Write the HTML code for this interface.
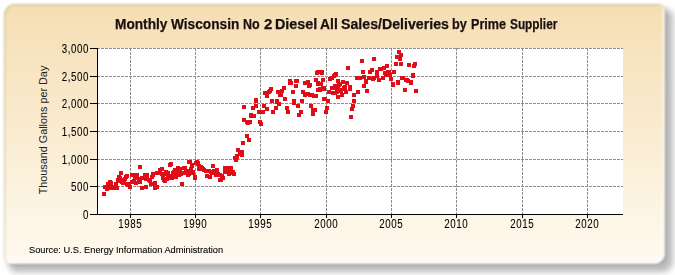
<!DOCTYPE html>
<html><head><meta charset="utf-8"><style>
html,body{margin:0;padding:0;background:#fff;width:675px;height:275px;overflow:hidden;position:relative;font-family:"Liberation Sans",sans-serif;}
.shadow{position:absolute;left:9px;top:9px;width:664px;height:263px;border-radius:11px 8px 11px 7px;background:#bababa;filter:blur(3px);}
.panel{position:absolute;left:3.6px;top:3.6px;width:661.4px;height:260.4px;border-radius:11px 8px 11px 7px;filter:blur(0.8px);
background:linear-gradient(180deg,#f5deb3 0%,#fffaf0 100%);box-shadow:inset 1px 1px 1.5px rgba(160,150,100,0.45), inset -2px -2px 1.5px rgba(255,255,255,0.95), 1px 1px 1.2px rgba(110,110,110,0.6);}
svg{position:absolute;left:0;top:0;}
.tw{position:absolute;top:16px;font-weight:bold;font-size:14.5px;color:#1a1010;white-space:nowrap;transform-origin:0 0;-webkit-text-stroke:0.25px #1a1010;}
.xl{position:absolute;top:217px;width:60px;text-align:center;font-size:12.5px;color:#000;transform:scaleX(0.78);letter-spacing:0.7px;text-indent:0.7px;-webkit-text-stroke:0.08px #000;}
.yl{position:absolute;left:20.5px;width:68px;text-align:right;font-size:12.5px;color:#000;line-height:16px;-webkit-text-stroke:0.08px #000;transform:scaleX(0.78);transform-origin:68px 0;letter-spacing:0.7px;}
.ylab{position:absolute;left:42.8px;top:129.8px;transform:translate(-50%,-50%) rotate(-90deg) scaleX(0.94);font-size:11.5px;color:#222;white-space:nowrap;}
.src{position:absolute;left:29px;top:243.5px;font-size:9.5px;color:#000;white-space:nowrap;transform:scaleX(0.975);-webkit-text-stroke:0.1px #000;transform-origin:0 0;}
</style></head><body>
<div class="shadow"></div>
<div class="panel"></div>
<svg width="675" height="275" viewBox="0 0 675 275">
<rect x="98" y="48" width="525" height="166" fill="#fff"/>
<g stroke="#8e8e8e" stroke-width="1" stroke-dasharray="3 1" shape-rendering="crispEdges"><line x1="130.5" y1="48" x2="130.5" y2="214"/><line x1="195.5" y1="48" x2="195.5" y2="214"/><line x1="260.5" y1="48" x2="260.5" y2="214"/><line x1="326.5" y1="48" x2="326.5" y2="214"/><line x1="391.5" y1="48" x2="391.5" y2="214"/><line x1="456.5" y1="48" x2="456.5" y2="214"/><line x1="522.5" y1="48" x2="522.5" y2="214"/><line x1="587.5" y1="48" x2="587.5" y2="214"/><line x1="97" y1="48.5" x2="623" y2="48.5"/><line x1="97" y1="76.5" x2="623" y2="76.5"/><line x1="97" y1="103.5" x2="623" y2="103.5"/><line x1="97" y1="131.5" x2="623" y2="131.5"/><line x1="97" y1="159.5" x2="623" y2="159.5"/><line x1="97" y1="186.5" x2="623" y2="186.5"/></g>
<g fill="#e00c18" shape-rendering="crispEdges"><rect x="102" y="192" width="4" height="4"/><rect x="103" y="185" width="4" height="4"/><rect x="106" y="182" width="4" height="4"/><rect x="109" y="181" width="4" height="4"/><rect x="107" y="186" width="4" height="4"/><rect x="112" y="186" width="4" height="4"/><rect x="114" y="182" width="4" height="4"/><rect x="116" y="179" width="4" height="4"/><rect x="119" y="171" width="4" height="4"/><rect x="118" y="176" width="4" height="4"/><rect x="120" y="180" width="4" height="4"/><rect x="124" y="175" width="4" height="4"/><rect x="127" y="182" width="4" height="4"/><rect x="128" y="185" width="4" height="4"/><rect x="131" y="173" width="4" height="4"/><rect x="132" y="179" width="4" height="4"/><rect x="135" y="175" width="4" height="4"/><rect x="138" y="165" width="4" height="4"/><rect x="138" y="180" width="4" height="4"/><rect x="140" y="186" width="4" height="4"/><rect x="143" y="173" width="4" height="4"/><rect x="145" y="177" width="4" height="4"/><rect x="148" y="179" width="4" height="4"/><rect x="151" y="173" width="4" height="4"/><rect x="152" y="182" width="4" height="4"/><rect x="154" y="185" width="4" height="4"/><rect x="157" y="171" width="4" height="4"/><rect x="160" y="167" width="4" height="4"/><rect x="161" y="174" width="4" height="4"/><rect x="163" y="179" width="4" height="4"/><rect x="166" y="171" width="4" height="4"/><rect x="169" y="162" width="4" height="4"/><rect x="169" y="174" width="4" height="4"/><rect x="173" y="170" width="4" height="4"/><rect x="176" y="166" width="4" height="4"/><rect x="177" y="173" width="4" height="4"/><rect x="180" y="182" width="4" height="4"/><rect x="182" y="166" width="4" height="4"/><rect x="184" y="171" width="4" height="4"/><rect x="187" y="160" width="4" height="4"/><rect x="189" y="167" width="4" height="4"/><rect x="191" y="171" width="4" height="4"/><rect x="193" y="176" width="4" height="4"/><rect x="194" y="161" width="4" height="4"/><rect x="160" y="167" width="4" height="4"/><rect x="161" y="175" width="4" height="4"/><rect x="162" y="178" width="4" height="4"/><rect x="164" y="170" width="4" height="4"/><rect x="166" y="174" width="4" height="4"/><rect x="168" y="163" width="4" height="4"/><rect x="169" y="176" width="4" height="4"/><rect x="172" y="170" width="4" height="4"/><rect x="174" y="175" width="4" height="4"/><rect x="176" y="166" width="4" height="4"/><rect x="179" y="172" width="4" height="4"/><rect x="180" y="182" width="4" height="4"/><rect x="182" y="166" width="4" height="4"/><rect x="184" y="170" width="4" height="4"/><rect x="187" y="172" width="4" height="4"/><rect x="188" y="160" width="4" height="4"/><rect x="190" y="164" width="4" height="4"/><rect x="191" y="170" width="4" height="4"/><rect x="193" y="175" width="4" height="4"/><rect x="195" y="160" width="4" height="4"/><rect x="197" y="164" width="4" height="4"/><rect x="200" y="166" width="4" height="4"/><rect x="202" y="168" width="4" height="4"/><rect x="205" y="174" width="4" height="4"/><rect x="208" y="175" width="4" height="4"/><rect x="209" y="170" width="4" height="4"/><rect x="211" y="164" width="4" height="4"/><rect x="215" y="168" width="4" height="4"/><rect x="216" y="172" width="4" height="4"/><rect x="218" y="178" width="4" height="4"/><rect x="220" y="174" width="4" height="4"/><rect x="223" y="166" width="4" height="4"/><rect x="224" y="170" width="4" height="4"/><rect x="227" y="172" width="4" height="4"/><rect x="229" y="166" width="4" height="4"/><rect x="231" y="170" width="4" height="4"/><rect x="232" y="172" width="4" height="4"/><rect x="234" y="158" width="4" height="4"/><rect x="235" y="155" width="4" height="4"/><rect x="238" y="152" width="4" height="4"/><rect x="240" y="150" width="4" height="4"/><rect x="233" y="156" width="4" height="4"/><rect x="235" y="154" width="4" height="4"/><rect x="236" y="148" width="4" height="4"/><rect x="240" y="153" width="4" height="4"/><rect x="241" y="141" width="4" height="4"/><rect x="245" y="134" width="4" height="4"/><rect x="247" y="138" width="4" height="4"/><rect x="242" y="118" width="4" height="4"/><rect x="245" y="120" width="4" height="4"/><rect x="248" y="120" width="4" height="4"/><rect x="258" y="120" width="4" height="4"/><rect x="259" y="122" width="4" height="4"/><rect x="242" y="105" width="4" height="4"/><rect x="242" y="118" width="4" height="4"/><rect x="246" y="121" width="4" height="4"/><rect x="249" y="113" width="4" height="4"/><rect x="251" y="106" width="4" height="4"/><rect x="254" y="99" width="4" height="4"/><rect x="254" y="104" width="4" height="4"/><rect x="258" y="120" width="4" height="4"/><rect x="257" y="110" width="4" height="4"/><rect x="261" y="110" width="4" height="4"/><rect x="262" y="104" width="4" height="4"/><rect x="265" y="107" width="4" height="4"/><rect x="263" y="91" width="4" height="4"/><rect x="265" y="94" width="4" height="4"/><rect x="268" y="89" width="4" height="4"/><rect x="270" y="99" width="4" height="4"/><rect x="271" y="110" width="4" height="4"/><rect x="274" y="106" width="4" height="4"/><rect x="275" y="100" width="4" height="4"/><rect x="276" y="90" width="4" height="4"/><rect x="277" y="102" width="4" height="4"/><rect x="279" y="93" width="4" height="4"/><rect x="282" y="86" width="4" height="4"/><rect x="283" y="97" width="4" height="4"/><rect x="285" y="106" width="4" height="4"/><rect x="286" y="110" width="4" height="4"/><rect x="291" y="90" width="4" height="4"/><rect x="292" y="101" width="4" height="4"/><rect x="294" y="84" width="4" height="4"/><rect x="296" y="104" width="4" height="4"/><rect x="297" y="113" width="4" height="4"/><rect x="299" y="110" width="4" height="4"/><rect x="300" y="99" width="4" height="4"/><rect x="301" y="90" width="4" height="4"/><rect x="303" y="93" width="4" height="4"/><rect x="307" y="84" width="4" height="4"/><rect x="308" y="93" width="4" height="4"/><rect x="309" y="104" width="4" height="4"/><rect x="311" y="108" width="4" height="4"/><rect x="311" y="112" width="4" height="4"/><rect x="313" y="94" width="4" height="4"/><rect x="316" y="88" width="4" height="4"/><rect x="269" y="87" width="4" height="4"/><rect x="282" y="86" width="4" height="4"/><rect x="288" y="79" width="4" height="4"/><rect x="289" y="81" width="4" height="4"/><rect x="294" y="79" width="4" height="4"/><rect x="294" y="84" width="4" height="4"/><rect x="303" y="81" width="4" height="4"/><rect x="306" y="80" width="4" height="4"/><rect x="308" y="83" width="4" height="4"/><rect x="315" y="71" width="4" height="4"/><rect x="320" y="71" width="4" height="4"/><rect x="314" y="78" width="4" height="4"/><rect x="316" y="82" width="4" height="4"/><rect x="319" y="82" width="4" height="4"/><rect x="321" y="78" width="4" height="4"/><rect x="322" y="86" width="4" height="4"/><rect x="328" y="77" width="4" height="4"/><rect x="332" y="74" width="4" height="4"/><rect x="334" y="72" width="4" height="4"/><rect x="331" y="86" width="4" height="4"/><rect x="336" y="84" width="4" height="4"/><rect x="314" y="94" width="4" height="4"/><rect x="313" y="108" width="4" height="4"/><rect x="318" y="87" width="4" height="4"/><rect x="322" y="87" width="4" height="4"/><rect x="323" y="97" width="4" height="4"/><rect x="326" y="99" width="4" height="4"/><rect x="325" y="106" width="4" height="4"/><rect x="324" y="110" width="4" height="4"/><rect x="327" y="90" width="4" height="4"/><rect x="330" y="86" width="4" height="4"/><rect x="331" y="91" width="4" height="4"/><rect x="333" y="84" width="4" height="4"/><rect x="335" y="90" width="4" height="4"/><rect x="336" y="95" width="4" height="4"/><rect x="337" y="83" width="4" height="4"/><rect x="339" y="88" width="4" height="4"/><rect x="340" y="93" width="4" height="4"/><rect x="343" y="87" width="4" height="4"/><rect x="344" y="90" width="4" height="4"/><rect x="348" y="87" width="4" height="4"/><rect x="352" y="93" width="4" height="4"/><rect x="356" y="90" width="4" height="4"/><rect x="352" y="99" width="4" height="4"/><rect x="351" y="104" width="4" height="4"/><rect x="350" y="107" width="4" height="4"/><rect x="349" y="115" width="4" height="4"/><rect x="362" y="84" width="4" height="4"/><rect x="365" y="89" width="4" height="4"/><rect x="391" y="83" width="4" height="4"/><rect x="403" y="88" width="4" height="4"/><rect x="330" y="76" width="4" height="4"/><rect x="333" y="73" width="4" height="4"/><rect x="337" y="83" width="4" height="4"/><rect x="341" y="80" width="4" height="4"/><rect x="345" y="81" width="4" height="4"/><rect x="346" y="66" width="4" height="4"/><rect x="348" y="85" width="4" height="4"/><rect x="355" y="76" width="4" height="4"/><rect x="358" y="76" width="4" height="4"/><rect x="360" y="59" width="4" height="4"/><rect x="361" y="70" width="4" height="4"/><rect x="362" y="75" width="4" height="4"/><rect x="364" y="79" width="4" height="4"/><rect x="362" y="84" width="4" height="4"/><rect x="368" y="70" width="4" height="4"/><rect x="370" y="68" width="4" height="4"/><rect x="367" y="76" width="4" height="4"/><rect x="372" y="57" width="4" height="4"/><rect x="372" y="76" width="4" height="4"/><rect x="375" y="70" width="4" height="4"/><rect x="377" y="78" width="4" height="4"/><rect x="379" y="67" width="4" height="4"/><rect x="381" y="76" width="4" height="4"/><rect x="383" y="71" width="4" height="4"/><rect x="385" y="64" width="4" height="4"/><rect x="384" y="73" width="4" height="4"/><rect x="386" y="70" width="4" height="4"/><rect x="388" y="73" width="4" height="4"/><rect x="389" y="77" width="4" height="4"/><rect x="391" y="82" width="4" height="4"/><rect x="392" y="70" width="4" height="4"/><rect x="394" y="62" width="4" height="4"/><rect x="395" y="55" width="4" height="4"/><rect x="397" y="50" width="4" height="4"/><rect x="399" y="53" width="4" height="4"/><rect x="398" y="57" width="4" height="4"/><rect x="399" y="62" width="4" height="4"/><rect x="396" y="81" width="4" height="4"/><rect x="401" y="76" width="4" height="4"/><rect x="405" y="78" width="4" height="4"/><rect x="407" y="63" width="4" height="4"/><rect x="409" y="81" width="4" height="4"/><rect x="411" y="73" width="4" height="4"/><rect x="412" y="64" width="4" height="4"/><rect x="413" y="62" width="4" height="4"/><rect x="362" y="84" width="4" height="4"/><rect x="365" y="89" width="4" height="4"/><rect x="364" y="80" width="4" height="4"/><rect x="391" y="82" width="4" height="4"/><rect x="396" y="80" width="4" height="4"/><rect x="400" y="76" width="4" height="4"/><rect x="404" y="78" width="4" height="4"/><rect x="406" y="79" width="4" height="4"/><rect x="409" y="80" width="4" height="4"/><rect x="403" y="88" width="4" height="4"/><rect x="411" y="74" width="4" height="4"/><rect x="414" y="89" width="4" height="4"/><rect x="254" y="98" width="4" height="4"/><rect x="263" y="91" width="4" height="4"/><rect x="265" y="93" width="4" height="4"/><rect x="267" y="90" width="4" height="4"/><rect x="269" y="87" width="4" height="4"/><rect x="270" y="99" width="4" height="4"/><rect x="275" y="99" width="4" height="4"/><rect x="276" y="90" width="4" height="4"/><rect x="278" y="93" width="4" height="4"/><rect x="280" y="89" width="4" height="4"/><rect x="282" y="86" width="4" height="4"/><rect x="283" y="97" width="4" height="4"/><rect x="288" y="79" width="4" height="4"/><rect x="288" y="81" width="4" height="4"/><rect x="295" y="79" width="4" height="4"/><rect x="294" y="84" width="4" height="4"/><rect x="291" y="90" width="4" height="4"/><rect x="292" y="99" width="4" height="4"/><rect x="300" y="99" width="4" height="4"/><rect x="301" y="90" width="4" height="4"/><rect x="303" y="81" width="4" height="4"/><rect x="306" y="80" width="4" height="4"/><rect x="308" y="83" width="4" height="4"/><rect x="304" y="92" width="4" height="4"/><rect x="306" y="92" width="4" height="4"/><rect x="310" y="93" width="4" height="4"/><rect x="312" y="94" width="4" height="4"/><rect x="314" y="78" width="4" height="4"/><rect x="316" y="81" width="4" height="4"/><rect x="318" y="82" width="4" height="4"/><rect x="321" y="78" width="4" height="4"/><rect x="318" y="88" width="4" height="4"/><rect x="321" y="86" width="4" height="4"/><rect x="316" y="70" width="4" height="4"/><rect x="320" y="70" width="4" height="4"/><rect x="322" y="97" width="4" height="4"/><rect x="104" y="185" width="4" height="4"/><rect x="106" y="182" width="4" height="4"/><rect x="108" y="180" width="4" height="4"/><rect x="109" y="184" width="4" height="4"/><rect x="105" y="187" width="4" height="4"/><rect x="110" y="186" width="4" height="4"/><rect x="112" y="185" width="4" height="4"/><rect x="114" y="182" width="4" height="4"/><rect x="116" y="178" width="4" height="4"/><rect x="117" y="175" width="4" height="4"/><rect x="115" y="186" width="4" height="4"/><rect x="121" y="181" width="4" height="4"/><rect x="123" y="177" width="4" height="4"/><rect x="125" y="174" width="4" height="4"/><rect x="126" y="183" width="4" height="4"/><rect x="125" y="182" width="4" height="4"/><rect x="122" y="178" width="4" height="4"/><rect x="130" y="173" width="4" height="4"/><rect x="130" y="180" width="4" height="4"/><rect x="133" y="176" width="4" height="4"/><rect x="134" y="181" width="4" height="4"/><rect x="137" y="177" width="4" height="4"/><rect x="135" y="173" width="4" height="4"/><rect x="140" y="176" width="4" height="4"/><rect x="143" y="173" width="4" height="4"/><rect x="144" y="177" width="4" height="4"/><rect x="145" y="173" width="4" height="4"/><rect x="147" y="178" width="4" height="4"/><rect x="150" y="175" width="4" height="4"/><rect x="151" y="172" width="4" height="4"/><rect x="149" y="182" width="4" height="4"/><rect x="153" y="181" width="4" height="4"/><rect x="155" y="185" width="4" height="4"/><rect x="153" y="186" width="4" height="4"/><rect x="144" y="185" width="4" height="4"/><rect x="155" y="171" width="4" height="4"/><rect x="158" y="168" width="4" height="4"/><rect x="160" y="172" width="4" height="4"/><rect x="161" y="176" width="4" height="4"/><rect x="164" y="172" width="4" height="4"/><rect x="165" y="177" width="4" height="4"/><rect x="168" y="174" width="4" height="4"/><rect x="171" y="171" width="4" height="4"/><rect x="170" y="176" width="4" height="4"/><rect x="173" y="174" width="4" height="4"/><rect x="173" y="168" width="4" height="4"/><rect x="176" y="170" width="4" height="4"/><rect x="178" y="167" width="4" height="4"/><rect x="180" y="171" width="4" height="4"/><rect x="183" y="166" width="4" height="4"/><rect x="184" y="171" width="4" height="4"/><rect x="187" y="169" width="4" height="4"/><rect x="190" y="170" width="4" height="4"/><rect x="186" y="173" width="4" height="4"/><rect x="188" y="160" width="4" height="4"/><rect x="190" y="163" width="4" height="4"/><rect x="191" y="170" width="4" height="4"/><rect x="196" y="161" width="4" height="4"/><rect x="197" y="167" width="4" height="4"/><rect x="196" y="162" width="4" height="4"/><rect x="199" y="165" width="4" height="4"/><rect x="201" y="167" width="4" height="4"/><rect x="204" y="169" width="4" height="4"/><rect x="207" y="169" width="4" height="4"/><rect x="197" y="166" width="4" height="4"/><rect x="210" y="171" width="4" height="4"/><rect x="212" y="169" width="4" height="4"/><rect x="215" y="171" width="4" height="4"/><rect x="214" y="173" width="4" height="4"/><rect x="218" y="173" width="4" height="4"/><rect x="205" y="174" width="4" height="4"/><rect x="219" y="178" width="4" height="4"/><rect x="221" y="176" width="4" height="4"/><rect x="225" y="166" width="4" height="4"/><rect x="228" y="169" width="4" height="4"/><rect x="230" y="171" width="4" height="4"/><rect x="223" y="170" width="4" height="4"/><rect x="335" y="87" width="4" height="4"/><rect x="339" y="89" width="4" height="4"/><rect x="343" y="85" width="4" height="4"/><rect x="333" y="91" width="4" height="4"/><rect x="249" y="114" width="4" height="4"/><rect x="252" y="114" width="4" height="4"/><rect x="378" y="67" width="4" height="4"/><rect x="382" y="66" width="4" height="4"/><rect x="375" y="74" width="4" height="4"/><rect x="371" y="77" width="4" height="4"/><rect x="387" y="70" width="4" height="4"/><rect x="338" y="82" width="4" height="4"/><rect x="342" y="86" width="4" height="4"/><rect x="336" y="79" width="4" height="4"/></g>
<g stroke="#000" stroke-width="1" shape-rendering="crispEdges">
<line x1="97.5" y1="48" x2="97.5" y2="215"/><line x1="97" y1="214.5" x2="623" y2="214.5"/><line x1="130.5" y1="214" x2="130.5" y2="218"/><line x1="195.5" y1="214" x2="195.5" y2="218"/><line x1="260.5" y1="214" x2="260.5" y2="218"/><line x1="326.5" y1="214" x2="326.5" y2="218"/><line x1="391.5" y1="214" x2="391.5" y2="218"/><line x1="456.5" y1="214" x2="456.5" y2="218"/><line x1="522.5" y1="214" x2="522.5" y2="218"/><line x1="587.5" y1="214" x2="587.5" y2="218"/><line x1="90" y1="48.5" x2="98" y2="48.5"/><line x1="90" y1="76.5" x2="98" y2="76.5"/><line x1="90" y1="103.5" x2="98" y2="103.5"/><line x1="90" y1="131.5" x2="98" y2="131.5"/><line x1="90" y1="159.5" x2="98" y2="159.5"/><line x1="90" y1="186.5" x2="98" y2="186.5"/><line x1="90" y1="214.5" x2="98" y2="214.5"/></g>
</svg>
<span class="tw" style="left:114.76px;transform:scaleX(0.944)">Monthly</span><span class="tw" style="left:171.30px;transform:scaleX(0.944)">Wisconsin</span><span class="tw" style="left:242.84px;transform:scaleX(0.861)">No</span><span class="tw" style="left:263.60px;transform:scaleX(1.037)">2</span><span class="tw" style="left:274.91px;transform:scaleX(0.990)">Diesel</span><span class="tw" style="left:319.70px;transform:scaleX(0.961)">All</span><span class="tw" style="left:341.40px;transform:scaleX(0.977)">Sales/Deliveries</span><span class="tw" style="left:452.02px;transform:scaleX(0.875)">by</span><span class="tw" style="left:470.93px;transform:scaleX(0.869)">Prime</span><span class="tw" style="left:509.60px;transform:scaleX(0.816)">Supplier</span>
<div class="xl" style="left:99.5px">1985</div><div class="xl" style="left:164.5px">1990</div><div class="xl" style="left:229.5px">1995</div><div class="xl" style="left:295.5px">2000</div><div class="xl" style="left:360.5px">2005</div><div class="xl" style="left:425.5px">2010</div><div class="xl" style="left:491.5px">2015</div><div class="xl" style="left:556.5px">2020</div>
<div class="yl" style="top:40.7px">3,000</div><div class="yl" style="top:68.7px">2,500</div><div class="yl" style="top:95.7px">2,000</div><div class="yl" style="top:123.7px">1,500</div><div class="yl" style="top:151.7px">1,000</div><div class="yl" style="top:178.7px">500</div><div class="yl" style="top:206.7px">0</div>
<div class="ylab">Thousand Gallons per Day</div>
<div class="src">Source: U.S. Energy Information Administration</div>
</body></html>
